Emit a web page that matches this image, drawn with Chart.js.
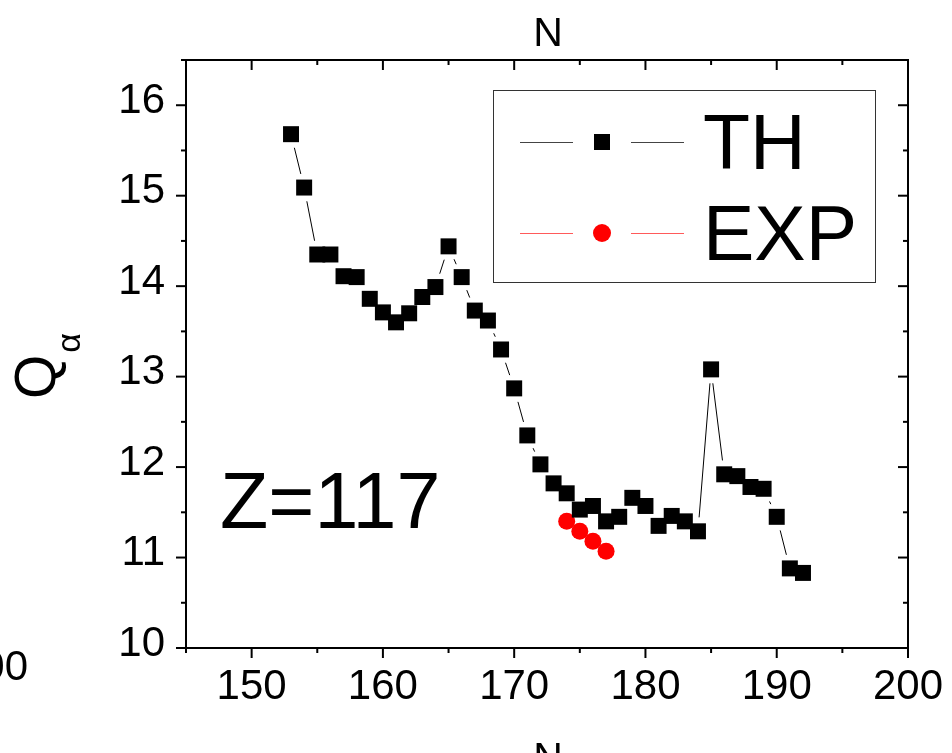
<!DOCTYPE html>
<html><head><meta charset="utf-8">
<script src="https://cdn.jsdelivr.net/npm/chart.js@4.4.1/dist/chart.umd.min.js"></script>
<style>
html,body{margin:0;padding:0;background:#fff;}
#wrap{position:relative;width:952px;height:753px;overflow:hidden;background:#fff;}
canvas{position:absolute;left:0;top:0;}
.t{position:absolute;font-family:"Liberation Sans",Arial,sans-serif;color:#000;white-space:nowrap;}
</style></head><body>
<div id="wrap">
<canvas id="c" width="952" height="753"></canvas>
<div class="t" style="left:220px;top:461px;font-size:79px;line-height:79px;">Z=117</div>
<div class="t" style="left:448px;top:12px;width:200px;text-align:center;font-size:41px;line-height:41px;">N</div>
<div class="t" style="left:448px;top:737px;width:200px;text-align:center;font-size:41px;line-height:41px;">N</div>
<div class="t" style="left:-72px;top:645px;width:100px;text-align:right;font-size:42px;line-height:42px;">100</div>
<div class="t" style="left:13px;top:349px;width:44px;text-align:center;font-size:57px;line-height:56px;transform:rotate(-90deg);">Q</div>
<div class="t" style="left:58px;top:326px;width:20px;text-align:center;font-size:34px;line-height:34px;transform:rotate(-90deg);">α</div>
</div>
<script>
// ---- data ----
const thN = [153,154,155,156,157,158,159,160,161,162,163,164,165,166,167,168,169,170,171,172,173,174,175,176,177,178,179,180,181,182,183,184,185,186,187,188,189,190,191,192];
const thQ = [15.68,15.09,14.35,14.35,14.11,14.10,13.86,13.71,13.60,13.70,13.88,13.99,14.44,14.10,13.73,13.62,13.30,12.87,12.35,12.03,11.82,11.71,11.53,11.57,11.40,11.45,11.66,11.57,11.35,11.46,11.40,11.29,13.08,11.92,11.90,11.78,11.76,11.45,10.88,10.83];
const expN = [174,175,176,177];
const expQ = [11.40,11.29,11.18,11.07];
const seriesLabels = ['TH','EXP'];
const xMajor = [150,160,170,180,190,200];
const xMinor = [145,155,165,175,185,195];
const yMajor = [10,11,12,13,14,15,16];
const yMinor = [10.5,11.5,12.5,13.5,14.5,15.5,16.5];

const FONT = '"Liberation Sans", Arial, sans-serif';

const gapLinePlugin = {
  id:'gapLine',
  beforeDatasetsDraw(chart){
    const ctx = chart.ctx;
    const gap = 14;
    chart.data.datasets.forEach((ds,i)=>{
      const meta = chart.getDatasetMeta(i);
      const pts = meta.data;
      ctx.save();
      ctx.strokeStyle = ds.lineColor;
      ctx.lineWidth = 1;
      for(let k=0;k<pts.length-1;k++){
        const a=pts[k], b=pts[k+1];
        const dx=b.x-a.x, dy=b.y-a.y, len=Math.hypot(dx,dy);
        if(len<=2*gap) continue;
        const ux=dx/len, uy=dy/len;
        ctx.beginPath();
        ctx.moveTo(a.x+ux*gap, a.y+uy*gap);
        ctx.lineTo(b.x-ux*gap, b.y-uy*gap);
        ctx.stroke();
      }
      ctx.restore();
    });
  }
};

const framePlugin = {
  id:'frame',
  afterDatasetsDraw(chart){
    const {ctx, chartArea:a, scales:{x,y}} = chart;
    ctx.save();
    ctx.strokeStyle='#000';
    ctx.lineWidth=2;
    ctx.strokeRect(a.left, a.top, a.right-a.left, a.bottom-a.top);
    const seg=(x1,y1,x2,y2)=>{ctx.beginPath();ctx.moveTo(x1,y1);ctx.lineTo(x2,y2);ctx.stroke();};
    xMajor.forEach(v=>{const p=x.getPixelForValue(v); seg(p,a.bottom,p,a.bottom+10); seg(p,a.top,p,a.top+10);});
    xMinor.forEach(v=>{const p=x.getPixelForValue(v); seg(p,a.bottom,p,a.bottom+5); seg(p,a.top,p,a.top+5);});
    yMajor.forEach(v=>{const p=y.getPixelForValue(v); seg(a.left-10,p,a.left,p); seg(a.right-10,p,a.right,p);});
    yMinor.forEach(v=>{const p=y.getPixelForValue(v); seg(a.left-5,p,a.left,p); seg(a.right-5,p,a.right,p);});
    ctx.restore();
  }
};

const legendPlugin = {
  id:'customLegend',
  afterDraw(chart){
    const ctx = chart.ctx;
    ctx.save();
    ctx.strokeStyle='#333';
    ctx.lineWidth=1;
    ctx.strokeRect(493.5, 90.5, 382, 192);
    const rows=[{y:142, base:169, color:'#000', line:'#444', style:'rect'},{y:233, base:260, color:'#ff0000', line:'#ff5a5a', style:'circle'}];
    rows.forEach((r,i)=>{
      ctx.strokeStyle=r.line; ctx.lineWidth=1;
      ctx.beginPath(); ctx.moveTo(520,r.y+0.5); ctx.lineTo(573,r.y+0.5); ctx.moveTo(631,r.y+0.5); ctx.lineTo(684,r.y+0.5); ctx.stroke();
      ctx.fillStyle=r.color;
      if(r.style==='rect'){ ctx.fillRect(594,r.y-8,16,16); }
      else { ctx.beginPath(); ctx.arc(602,r.y,9,0,Math.PI*2); ctx.fill(); }
      ctx.fillStyle='#000';
      ctx.font='77px '+FONT;
      ctx.textBaseline='alphabetic';
      ctx.textAlign='left';
      ctx.fillText(seriesLabels[i], 703, r.base);
    });
    ctx.restore();
  }
};

new Chart(document.getElementById('c'), {
  type:'scatter',
  data:{datasets:[
    {label:seriesLabels[0], data:thN.map((n,i)=>({x:n,y:thQ[i]})), showLine:false, pointStyle:'rect', pointRadius:11.3, pointBackgroundColor:'#000', pointBorderColor:'#000', pointBorderWidth:0, lineColor:'#000'},
    {label:seriesLabels[1], data:expN.map((n,i)=>({x:n,y:expQ[i]})), showLine:false, pointStyle:'circle', pointRadius:8.5, pointBackgroundColor:'#ff0000', pointBorderColor:'#ff0000', pointBorderWidth:0, lineColor:'#ff0000'}
  ]},
  options:{
    responsive:false, animation:false, events:[],
    layout:{padding:{left:0,right:44,top:60,bottom:0}},
    plugins:{legend:{display:false}, tooltip:{enabled:false}, title:{display:false}},
    scales:{
      x:{type:'linear', position:'bottom', min:145, max:200,
        afterBuildTicks:s=>{s.ticks=xMajor.map(v=>({value:v}));},
        afterFit:s=>{s.height=105;},
        grid:{display:true, drawOnChartArea:false, drawTicks:true, tickLength:10, color:'rgba(0,0,0,0)'},
        border:{display:false},
        ticks:{font:{family:FONT,size:42}, color:'#000', padding:4, maxRotation:0, autoSkip:false}
      },
      y:{type:'linear', position:'left', min:10, max:16.5,
        afterBuildTicks:s=>{s.ticks=yMajor.map(v=>({value:v}));},
        afterFit:s=>{s.width=186;},
        grid:{display:true, drawOnChartArea:false, drawTicks:true, tickLength:10, color:'rgba(0,0,0,0)'},
        border:{display:false},
        ticks:{font:{family:FONT,size:42}, color:'#000', padding:11, labelOffset:-4, autoSkip:false}
      }
    }
  },
  plugins:[gapLinePlugin, framePlugin, legendPlugin]
});
</script>
</body></html>
